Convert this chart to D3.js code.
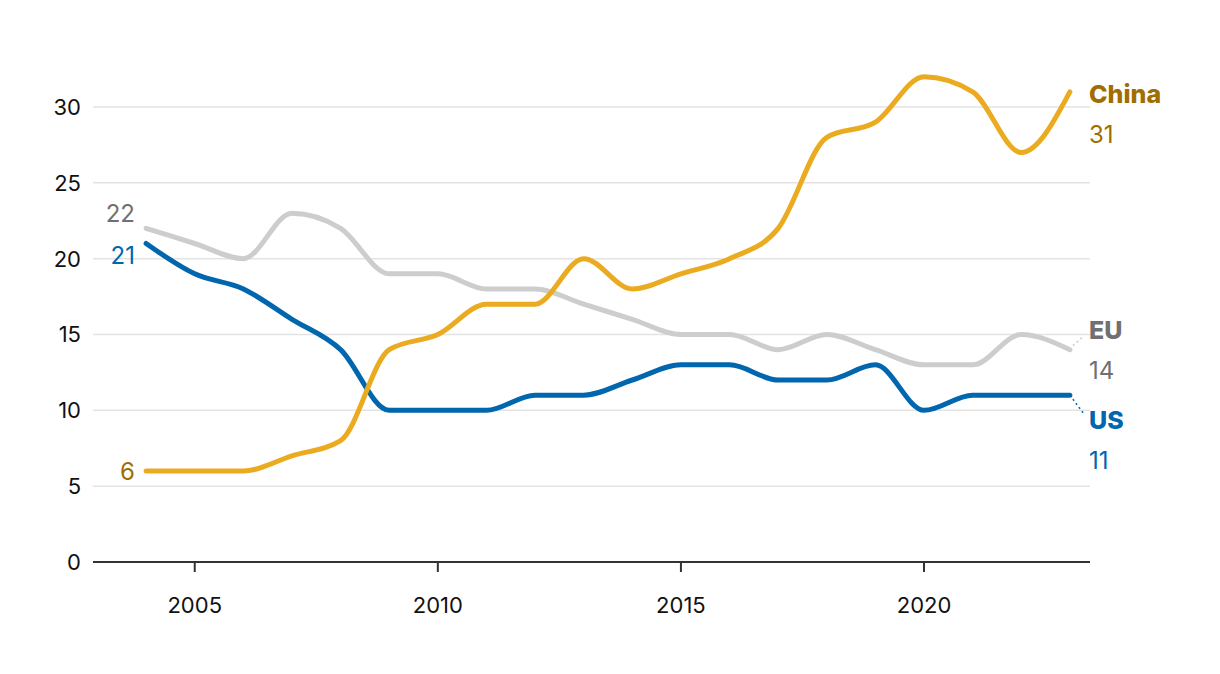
<!DOCTYPE html>
<html><head><meta charset="utf-8">
<script src="https://cdn.jsdelivr.net/npm/d3@7"></script>
<style>body{margin:0;background:#fff}svg{display:block;font-family:"Inter","Lato",sans-serif}</style>
</head><body><svg id="c" width="1220" height="674"></svg>
<script>
const years = [2004,2005,2006,2007,2008,2009,2010,2011,2012,2013,2014,2015,2016,2017,2018,2019,2020,2021,2022,2023];
const china = [6,6,6,7,8,14,15,17,17,20,18,19,20,22,28,29,32,31,27,31];
const eu    = [22,21,20,23,22,19,19,18,18,17,16,15,15,14,15,14,13,13,15,14];
const us    = [21,19,18,16,14,10,10,10,11,11,12,13,13,12,12,13,10,11,11,11];
const yTicks = [0,5,10,15,20,25,30];
const xTicks = [2005,2010,2015,2020];

const svg = d3.select("#c");
const x = d3.scaleLinear().domain([2003,2024]).range([97.5,1118.5]);
const y = d3.scaleLinear().domain([0,30]).range([562,107]);
const L = 93, R = 1090;

// grid
svg.append("g").selectAll("line").data(yTicks.filter(d=>d>0)).join("line")
  .attr("x1",L).attr("x2",R).attr("y1",d=>y(d)).attr("y2",d=>y(d))
  .attr("stroke","#e3e3e3").attr("stroke-width",1.5);
// y labels
svg.append("g").selectAll("text").data(yTicks).join("text")
  .attr("x",81).attr("y",d=>y(d)).attr("dy","0.36em").attr("text-anchor","end")
  .attr("font-size",22).attr("fill","#111").text(d=>d);
// x axis
svg.append("line").attr("x1",L).attr("x2",R).attr("y1",562).attr("y2",562).attr("stroke","#333").attr("stroke-width",2);
svg.append("g").selectAll("line").data(xTicks).join("line")
  .attr("x1",d=>x(d)).attr("x2",d=>x(d)).attr("y1",562).attr("y2",572).attr("stroke","#333").attr("stroke-width",2);
svg.append("g").selectAll("text").data(xTicks).join("text")
  .attr("x",d=>x(d)).attr("y",605).attr("dy","0.36em").attr("text-anchor","middle")
  .attr("font-size",22).attr("fill","#111").text(d=>d);

const line = d3.line().x((d,i)=>x(years[i])).y(d=>y(d)).curve(d3.curveMonotoneX);
const series = [
  {name:"EU", vals:eu, color:"#cdcdcd", text:"#707070", ly:330},
  {name:"US", vals:us, color:"#0066ae", text:"#0066ae", ly:420},
  {name:"China", vals:china, color:"#ebab20", text:"#a06e00", ly:94}
];
series.forEach(s=>{
  svg.append("path").attr("d",line(s.vals)).attr("fill","none").attr("stroke",s.color)
    .attr("stroke-width",5).attr("stroke-linecap","round").attr("stroke-linejoin","round");
  const last = s.vals[s.vals.length-1];
  const ex = x(years[years.length-1]), ey = y(last);
  if (Math.abs(ey - s.ly) > 12) {
    svg.append("line").attr("x1",ex+3).attr("y1",ey+(s.ly>ey?4:-4)).attr("x2",1084).attr("y2",s.ly+(s.ly>ey?-6:6))
      .attr("stroke",s.color).attr("stroke-width",1.5).attr("stroke-dasharray","2,3");
  }
  svg.append("text").attr("x",1089).attr("y",s.ly).attr("dy","0.36em").attr("font-size",25)
    .attr("font-weight",800).attr("fill",s.text).text(s.name);
  svg.append("text").attr("x",1089).attr("y",s.ly+40).attr("dy","0.36em").attr("font-size",24)
    .attr("fill",s.text).text(last);
});
// start labels
const startLabels = [
  {v:eu[0], color:"#707070", dy:-15},
  {v:us[0], color:"#0066ae", dy:12},
  {v:china[0], color:"#a06e00", dy:0}
];
svg.append("g").selectAll("text").data(startLabels).join("text")
  .attr("x",135).attr("y",d=>y(d.v)+d.dy).attr("dy","0.36em").attr("text-anchor","end")
  .attr("font-size",24).attr("fill",d=>d.color).text(d=>d.v);
</script></body></html>
